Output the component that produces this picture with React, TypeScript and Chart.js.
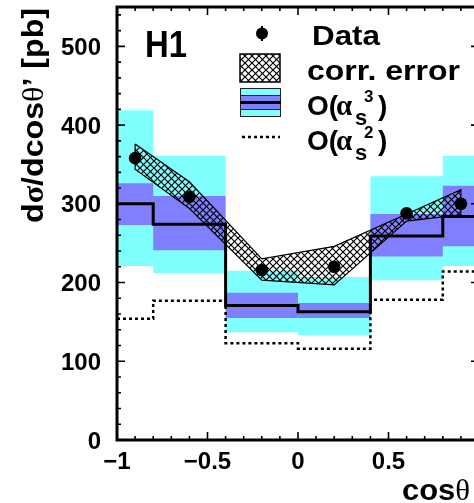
import React, { useEffect, useRef } from "react";
import { Chart, registerables } from "chart.js";

Chart.register(...registerables);

// ---------- data ----------
const binEdges = [-1, -0.8, -0.4, 0, 0.4, 0.8, 1];
const nloCentral = [300, 274, 171, 163, 259, 284];
const nloOuterHigh = [419, 361, 215, 207, 335, 361];
const nloOuterLow = [221, 212, 137, 133, 203, 221];
const nloInnerHigh = [326, 310, 187, 174, 287, 323];
const nloInnerLow = [273, 241, 155, 155, 233, 246];
const loCentral = [154, 177, 123, 116, 178, 214];
const dataX = [-0.9, -0.6, -0.2, 0.2, 0.6, 0.9];
const dataY = [358, 309, 216, 220, 288, 300];
const corrUpper = [376, 328, 230, 246, 287, 318];
const corrLower = [344, 294, 203, 197, 278, 286];
const xTickValues = [-1, -0.5, 0, 0.5];
const xTickLabels = ["\u22121", "\u22120.5", "0", "0.5"];
const yTickValues = [0, 100, 200, 300, 400, 500];
const yTickLabels = ["0", "100", "200", "300", "400", "500"];
const X_MIN = -1;
const X_MAX = 1;
const Y_MIN = 0;
const Y_MAX = 550;

const CANVAS_W = 492;
const CANVAS_H = 503;

const CYAN = "#80ffff";
const BLUE = "#8080ff";
const BOLD = "'Liberation Sans', Arial, sans-serif";
const SERIF = "'Liberation Serif', 'Times New Roman', serif";

const stepPoints = (vals: number[]) =>
  binEdges.map((x, i) => ({ x, y: vals[Math.min(i, vals.length - 1)] }));

function makeHatch(): CanvasPattern | string {
  const s = 7;
  const c = document.createElement("canvas");
  c.width = s;
  c.height = s;
  const g = c.getContext("2d");
  if (!g) return "rgba(0,0,0,0.3)";
  g.strokeStyle = "#000";
  g.lineWidth = 1.2;
  for (const k of [-s, 0, s]) {
    g.beginPath();
    g.moveTo(k, 0);
    g.lineTo(k + s, s);
    g.stroke();
    g.beginPath();
    g.moveTo(k, s);
    g.lineTo(k + s, 0);
    g.stroke();
  }
  const p = g.createPattern(c, "repeat");
  return p || "rgba(0,0,0,0.3)";
}

type Run = { t: string; font: string; dy?: number; dx?: number };

function drawRuns(
  ctx: CanvasRenderingContext2D,
  runs: Run[],
  x: number,
  y: number,
  align: "left" | "right" | "center" = "left",
  width?: number
) {
  ctx.textAlign = "left";
  ctx.textBaseline = "alphabetic";
  const ws = runs.map((r) => {
    ctx.font = r.font;
    return ctx.measureText(r.t).width + (r.dx || 0);
  });
  const total = ws.reduce((a, b) => a + b, 0);
  const s = width ? width / total : 1;
  ctx.save();
  ctx.translate(x, y);
  ctx.scale(s, 1);
  let cx = align === "right" ? -total : align === "center" ? -total / 2 : 0;
  runs.forEach((r, i) => {
    ctx.font = r.font;
    ctx.fillText(r.t, cx, r.dy || 0);
    cx += ws[i];
  });
  ctx.restore();
}

function txt(ctx: CanvasRenderingContext2D, t: string, x: number, y: number, font: string) {
  ctx.font = font;
  ctx.textAlign = "left";
  ctx.textBaseline = "alphabetic";
  ctx.fillText(t, x, y);
}

export default function App() {
  const ref = useRef<HTMLCanvasElement | null>(null);

  useEffect(() => {
    const canvas = ref.current;
    if (!canvas) return;
    const hatch = makeHatch();

    const corrPolygon = [
      ...dataX.map((x, i) => ({ x, y: corrUpper[i] })),
      ...dataX.map((x, i) => ({ x, y: corrLower[i] })).reverse(),
    ];
    corrPolygon.push({ ...corrPolygon[0] });

    const framePlugin = {
      id: "rootFrame",
      afterDraw(chart: any) {
        const ctx: CanvasRenderingContext2D = chart.ctx;
        const xs = chart.scales.x;
        const ys = chart.scales.y;
        const L = xs.getPixelForValue(X_MIN);
        const R = xs.getPixelForValue(X_MAX);
        const T = ys.getPixelForValue(Y_MAX);
        const B = ys.getPixelForValue(Y_MIN);
        ctx.save();
        ctx.fillStyle = "#000";
        ctx.strokeStyle = "#000";
        // ticks
        ctx.lineWidth = 1.6;
        for (let i = -10; i <= 10; i++) {
          const v = i / 10;
          const px = xs.getPixelForValue(v);
          const len = i % 5 === 0 ? 8 : 4;
          ctx.beginPath();
          ctx.moveTo(px, B);
          ctx.lineTo(px, B - len);
          ctx.moveTo(px, T);
          ctx.lineTo(px, T + len);
          ctx.stroke();
        }
        for (let v = 0; v <= 540; v += 20) {
          const py = ys.getPixelForValue(v);
          const len = v % 100 === 0 ? 8 : 4;
          ctx.beginPath();
          ctx.moveTo(L, py);
          ctx.lineTo(L + len, py);
          ctx.moveTo(R, py);
          ctx.lineTo(R - len, py);
          ctx.stroke();
        }
        // frame
        ctx.lineWidth = 3;
        ctx.strokeRect(L, T, R - L, B - T);

        // tick labels
        const tickFont = `bold 24px ${BOLD}`;
        yTickValues.forEach((v, i) => {
          const py = ys.getPixelForValue(v);
          drawRuns(ctx, [{ t: yTickLabels[i], font: tickFont }], 101, py + 8.5, "right");
        });
        xTickValues.forEach((v, i) => {
          const px = xs.getPixelForValue(v);
          drawRuns(ctx, [{ t: xTickLabels[i], font: tickFont }], px, 469, "center");
        });

        // axis titles
        drawRuns(
          ctx,
          [
            { t: "cos", font: `bold 30px ${BOLD}` },
            { t: "\u03b8", font: `30px ${SERIF}` },
          ],
          470,
          500,
          "right",
          68
        );
        ctx.save();
        ctx.translate(43, 223);
        ctx.rotate(-Math.PI / 2);
        drawRuns(
          ctx,
          [
            { t: "d", font: `bold 30px ${BOLD}` },
            { t: "\u03c3", font: `bold 30px ${SERIF}` },
            { t: "/dcos", font: `bold 30px ${BOLD}` },
            { t: "\u03b8", font: `30px ${SERIF}` },
            { t: "\u2019 [pb]", font: `bold 30px ${BOLD}` },
          ],
          0,
          0,
          "left",
          215
        );
        ctx.restore();

        // H1 label
        drawRuns(ctx, [{ t: "H1", font: `bold 36px ${BOLD}` }], 145, 57, "left", 42);

        // ----- legend -----
        // Data marker
        ctx.lineWidth = 2;
        ctx.beginPath();
        ctx.moveTo(262, 26);
        ctx.lineTo(262, 41);
        ctx.stroke();
        ctx.beginPath();
        ctx.arc(262, 33.5, 6, 0, Math.PI * 2);
        ctx.fill();
        drawRuns(ctx, [{ t: "Data", font: `bold 28px ${BOLD}` }], 312, 45, "left", 68);

        // corr. error box
        ctx.fillStyle = hatch as any;
        ctx.fillRect(240, 54, 40, 28);
        ctx.fillStyle = "#000";
        ctx.lineWidth = 1.5;
        ctx.strokeRect(240, 54, 40, 28);
        drawRuns(ctx, [{ t: "corr. error", font: `bold 28px ${BOLD}` }], 307, 80, "left", 153);

        // O(as^3) box
        ctx.fillStyle = CYAN;
        ctx.fillRect(240, 88, 40, 29);
        ctx.lineWidth = 1;
        ctx.strokeStyle = "#222";
        ctx.strokeRect(240.5, 88.5, 40, 28);
        ctx.fillStyle = BLUE;
        ctx.fillRect(240, 95, 40, 15);
        ctx.strokeRect(240.5, 95.5, 40, 14);
        ctx.strokeStyle = "#000";
        ctx.lineWidth = 3;
        ctx.beginPath();
        ctx.moveTo(240, 102.5);
        ctx.lineTo(281, 102.5);
        ctx.stroke();
        ctx.fillStyle = "#000";
        txt(ctx, "O(", 307, 115, `bold 28px ${BOLD}`);
        txt(ctx, "\u03b1", 336, 115, `bold 29px ${SERIF}`);
        txt(ctx, "s", 355, 125, `bold 22px ${BOLD}`);
        txt(ctx, "3", 364, 102, `bold 17px ${BOLD}`);
        txt(ctx, ")", 378, 115, `bold 28px ${BOLD}`);

        // O(as^2) line
        ctx.lineWidth = 2.5;
        ctx.setLineDash([3, 3]);
        ctx.beginPath();
        ctx.moveTo(242, 137);
        ctx.lineTo(280, 137);
        ctx.stroke();
        ctx.setLineDash([]);
        txt(ctx, "O(", 307, 150, `bold 28px ${BOLD}`);
        txt(ctx, "\u03b1", 336, 150, `bold 29px ${SERIF}`);
        txt(ctx, "s", 355, 160, `bold 22px ${BOLD}`);
        txt(ctx, "2", 364, 138, `bold 17px ${BOLD}`);
        txt(ctx, ")", 378, 150, `bold 28px ${BOLD}`);

        ctx.restore();
      },
    };

    const bandCommon = {
      stepped: true,
      pointRadius: 0,
      borderWidth: 0,
      borderColor: "rgba(0,0,0,0)",
      tension: 0,
    };

    const chart = new Chart(canvas, {
      type: "line",
      data: {
        datasets: [
          {
            ...bandCommon,
            label: "outer high",
            data: stepPoints(nloOuterHigh),
            fill: "+1",
            backgroundColor: CYAN,
            order: 10,
          },
          {
            ...bandCommon,
            label: "outer low",
            data: stepPoints(nloOuterLow),
            fill: false,
            order: 10,
          },
          {
            ...bandCommon,
            label: "inner high",
            data: stepPoints(nloInnerHigh),
            fill: "+1",
            backgroundColor: BLUE,
            order: 9,
          },
          {
            ...bandCommon,
            label: "inner low",
            data: stepPoints(nloInnerLow),
            fill: false,
            order: 9,
          },
          {
            label: "O(as3)",
            data: stepPoints(nloCentral),
            stepped: true,
            pointRadius: 0,
            borderColor: "#000",
            borderWidth: 3,
            fill: false,
            order: 8,
          },
          {
            label: "O(as2)",
            data: stepPoints(loCentral),
            stepped: true,
            pointRadius: 0,
            borderColor: "#000",
            borderWidth: 2.5,
            borderDash: [3, 3],
            fill: false,
            order: 7,
          },
          {
            label: "corr. error",
            data: corrPolygon,
            pointRadius: 0,
            borderColor: "#000",
            borderWidth: 1.2,
            backgroundColor: hatch as any,
            fill: "shape",
            tension: 0,
            order: 6,
          },
          {
            label: "Data",
            data: dataX.map((x, i) => ({ x, y: dataY[i] })),
            showLine: false,
            pointRadius: 6.3,
            pointBackgroundColor: "#000",
            pointBorderWidth: 0,
            pointBorderColor: "#000",
            order: 1,
          },
        ] as any,
      },
      options: {
        animation: false,
        responsive: false,
        maintainAspectRatio: false,
        devicePixelRatio: 1,
        events: [],
        layout: {
          padding: { left: 117, right: CANVAS_W - 479, top: 7, bottom: CANVAS_H - 440 },
        },
        scales: {
          x: { type: "linear", min: X_MIN, max: X_MAX, display: false },
          y: { type: "linear", min: Y_MIN, max: Y_MAX, display: false },
        },
        plugins: {
          legend: { display: false },
          tooltip: { enabled: false },
          title: { display: false },
        },
      } as any,
      plugins: [framePlugin],
    });

    return () => chart.destroy();
  }, []);

  return (
    <div
      style={{
        position: "fixed",
        left: 0,
        top: 0,
        width: 474,
        height: 503,
        overflow: "hidden",
        background: "#fff",
      }}
    >
      <canvas
        ref={ref}
        width={CANVAS_W}
        height={CANVAS_H}
        style={{ display: "block", width: CANVAS_W, height: CANVAS_H }}
      />
    </div>
  );
}
